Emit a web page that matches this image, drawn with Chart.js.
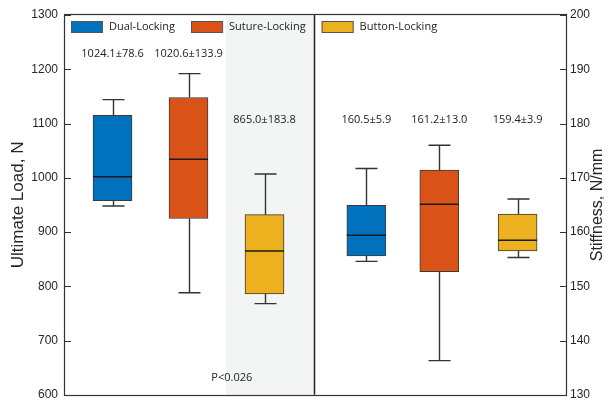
<!DOCTYPE html>
<html><head><meta charset="utf-8">
<script src="https://cdn.jsdelivr.net/npm/chart.js@4"></script>
<style>html,body{margin:0;padding:0;background:#fff}#wrap{width:611px;height:409px;position:relative}</style>
</head><body><div id="wrap"><canvas id="c"></canvas></div>
<script>
// ---- data ----
const groups = ['Dual-Locking', 'Suture-Locking', 'Button-Locking'];
const loadMin    = [948, 788, 768];
const loadQ1     = [958, 925, 786];
const loadMedian = [1002, 1034, 865];
const loadQ3     = [1115, 1148, 932];
const loadMax    = [1144, 1192, 1007];
const loadLabels = ['1024.1±78.6', '1020.6±133.9', '865.0±183.8'];
const stiffMin    = [154.6, 136.3, 155.3];
const stiffQ1     = [155.6, 152.7, 156.5];
const stiffMedian = [159.4, 165.1, 158.5];
const stiffQ3     = [164.9, 171.4, 163.3];
const stiffMax    = [171.7, 176.0, 166.1];
const stiffLabels = ['160.5±5.9', '161.2±13.0', '159.4±3.9'];
const loadTickValues  = [600, 700, 800, 900, 1000, 1100, 1200, 1300];
const stiffTickValues = [130, 140, 150, 160, 170, 180, 190, 200];
const pValueLabel = 'P<0.026';
const loadTitle = 'Ultimate Load, N';
const stiffTitle = 'Stiffness, N/mm';

// ---- layout (positions on the x scale, not data) ----
const loadPos  = [1, 2, 3];
const stiffPos = [4.34, 5.30, 6.33];
const xRange = [0.375, 6.967];
const shadeRange = [2.493, 3.651];
const dividerX = 3.651;
const loadLabelY  = [1228, 1228, 1106];
const stiffLabelY = [180.6, 180.6, 180.6];
const pLabelPos = {x: 2.57, y: 632};
const colors = ['#0072BD', '#D95319', '#EDB120'];
const ink = '#262626';
const annFont = '11px "Open Sans", "DejaVu Sans", sans-serif';

const datasets = [];
groups.forEach((g, i) => {
  datasets.push({
    label: g, type: 'bar', xAxisID: 'x', yAxisID: 'y',
    data: [{x: loadPos[i], y: [loadQ1[i], loadQ3[i]]}],
    stats: {min: loadMin[i], med: loadMedian[i], max: loadMax[i]},
    annot: {text: loadLabels[i], y: loadLabelY[i]},
    backgroundColor: colors[i], borderColor: '#3a3a3a', borderWidth: 1,
    borderSkipped: false, barThickness: 39, grouped: false
  });
});
groups.forEach((g, i) => {
  datasets.push({
    label: g, type: 'bar', xAxisID: 'x', yAxisID: 'y2',
    data: [{x: stiffPos[i], y: [stiffQ1[i], stiffQ3[i]]}],
    stats: {min: stiffMin[i], med: stiffMedian[i], max: stiffMax[i]},
    annot: {text: stiffLabels[i], y: stiffLabelY[i]},
    backgroundColor: colors[i], borderColor: '#3a3a3a', borderWidth: 1,
    borderSkipped: false, barThickness: 39, grouped: false
  });
});

const extras = {
  id: 'extras',
  beforeDatasetsDraw(chart) {
    const ctx = chart.ctx, ca = chart.chartArea, xs = chart.scales.x;
    ctx.save();
    const x0 = xs.getPixelForValue(shadeRange[0]), x1 = xs.getPixelForValue(shadeRange[1]);
    ctx.fillStyle = '#f3f5f4';
    ctx.fillRect(x0, ca.top, x1 - x0, ca.bottom - ca.top);
    ctx.strokeStyle = '#333';
    ctx.lineWidth = 1.4;
    chart.data.datasets.forEach((ds, i) => {
      const bar = chart.getDatasetMeta(i).data[0];
      const ys = chart.scales[ds.yAxisID];
      const x = Math.round(bar.x) + 0.5;
      const yMax = ys.getPixelForValue(ds.stats.max), yMin = ys.getPixelForValue(ds.stats.min);
      const yQ3 = ys.getPixelForValue(ds.data[0].y[1]), yQ1 = ys.getPixelForValue(ds.data[0].y[0]);
      ctx.beginPath();
      ctx.moveTo(x, yQ3); ctx.lineTo(x, yMax);
      ctx.moveTo(x - 11, yMax); ctx.lineTo(x + 11, yMax);
      ctx.moveTo(x, yQ1); ctx.lineTo(x, yMin);
      ctx.moveTo(x - 11, yMin); ctx.lineTo(x + 11, yMin);
      ctx.stroke();
    });
    ctx.restore();
  },
  afterDatasetsDraw(chart) {
    const ctx = chart.ctx, ca = chart.chartArea, xs = chart.scales.x;
    ctx.save();
    ctx.strokeStyle = '#1a1a1a';
    ctx.lineWidth = 1.5;
    chart.data.datasets.forEach((ds, i) => {
      const bar = chart.getDatasetMeta(i).data[0];
      const ys = chart.scales[ds.yAxisID];
      const y = ys.getPixelForValue(ds.stats.med);
      ctx.beginPath();
      ctx.moveTo(bar.x - bar.width / 2, y); ctx.lineTo(bar.x + bar.width / 2, y);
      ctx.stroke();
    });
    ctx.strokeStyle = '#333';
    ctx.lineWidth = 1.2;
    ctx.strokeRect(Math.round(ca.left) - 0.5, Math.round(ca.top) - 0.5, Math.round(ca.right - ca.left) + 1, Math.round(ca.bottom - ca.top) + 1);
    const dx = Math.round(xs.getPixelForValue(dividerX)) + 0.5;
    ctx.lineWidth = 1.5;
    ctx.strokeStyle = '#222';
    ctx.beginPath(); ctx.moveTo(dx, ca.top); ctx.lineTo(dx, ca.bottom); ctx.stroke();
    ctx.lineWidth = 1.2;
    ctx.strokeStyle = '#333';
    const yl = chart.scales.y, yr = chart.scales.y2;
    ctx.beginPath();
    yl.ticks.forEach(t => { const y = Math.round(yl.getPixelForValue(t.value)) + 0.5; ctx.moveTo(ca.left, y); ctx.lineTo(ca.left + 6, y); });
    yr.ticks.forEach(t => { const y = Math.round(yr.getPixelForValue(t.value)) + 0.5; ctx.moveTo(ca.right, y); ctx.lineTo(ca.right - 6, y); });
    ctx.stroke();
    ctx.fillStyle = '#222';
    ctx.font = annFont;
    ctx.textAlign = 'center';
    ctx.textBaseline = 'middle';
    chart.data.datasets.forEach((ds, i) => {
      const bar = chart.getDatasetMeta(i).data[0];
      const ys = chart.scales[ds.yAxisID];
      ctx.fillText(ds.annot.text, bar.x, ys.getPixelForValue(ds.annot.y));
    });
    ctx.fillText(pValueLabel, xs.getPixelForValue(pLabelPos.x), yl.getPixelForValue(pLabelPos.y));
    ctx.font = '16px "Liberation Sans", Arial, sans-serif';
    ctx.fillStyle = ink;
    ctx.translate(yr.right - 13, (ca.top + ca.bottom) / 2);
    ctx.rotate(-Math.PI / 2);
    ctx.fillText(stiffTitle, 0, 0);
    ctx.setTransform(1, 0, 0, 1, 0, 0);
    ctx.font = '11px "Open Sans", "DejaVu Sans", sans-serif';
    ctx.textAlign = 'left';
    let lx = ca.left + 6;
    const ly = ca.top + 12;
    groups.forEach((g, i) => {
      ctx.fillStyle = colors[i];
      ctx.fillRect(lx, ly - 6, 32, 12);
      ctx.strokeStyle = '#555';
      ctx.lineWidth = 1;
      ctx.strokeRect(lx + 0.5, ly - 6 + 0.5, 31, 11);
      ctx.fillStyle = '#222';
      ctx.fillText(g, lx + 38, ly);
      lx += 38 + ctx.measureText(g).width + 16;
    });
    ctx.restore();
  }
};

const tickFont = {family: '"Liberation Sans", Arial, sans-serif', size: 12};
new Chart(document.getElementById('c'), {
  type: 'bar',
  data: {datasets},
  options: {
    responsive: true, maintainAspectRatio: false, animation: false,
    layout: {padding: {top: 15, bottom: 6, left: 0, right: 0}},
    plugins: {legend: {display: false}, tooltip: {enabled: false}},
    scales: {
      x: {type: 'linear', min: xRange[0], max: xRange[1], display: false, offset: false},
      y: {
        type: 'linear', position: 'left', min: 600, max: 1300,
        afterBuildTicks: s => { s.ticks = loadTickValues.map(v => ({value: v})); },
        ticks: {font: tickFont, color: ink, padding: 7, callback: v => String(v)},
        grid: {drawOnChartArea: false, drawTicks: false},
        border: {display: false},
        title: {display: true, text: loadTitle, color: ink, font: {family: '"Liberation Sans", Arial, sans-serif', size: 17}, padding: {top: 8, bottom: 0}},
        afterFit: s => { s.width = 65; }
      },
      y2: {
        type: 'linear', position: 'right', min: 130, max: 200,
        afterBuildTicks: s => { s.ticks = stiffTickValues.map(v => ({value: v})); },
        ticks: {font: tickFont, color: ink, padding: 4, callback: v => String(v)},
        grid: {drawOnChartArea: false, drawTicks: false},
        border: {display: false},
        afterFit: s => { s.width = 45; }
      }
    }
  },
  plugins: [extras]
});
</script></body></html>
